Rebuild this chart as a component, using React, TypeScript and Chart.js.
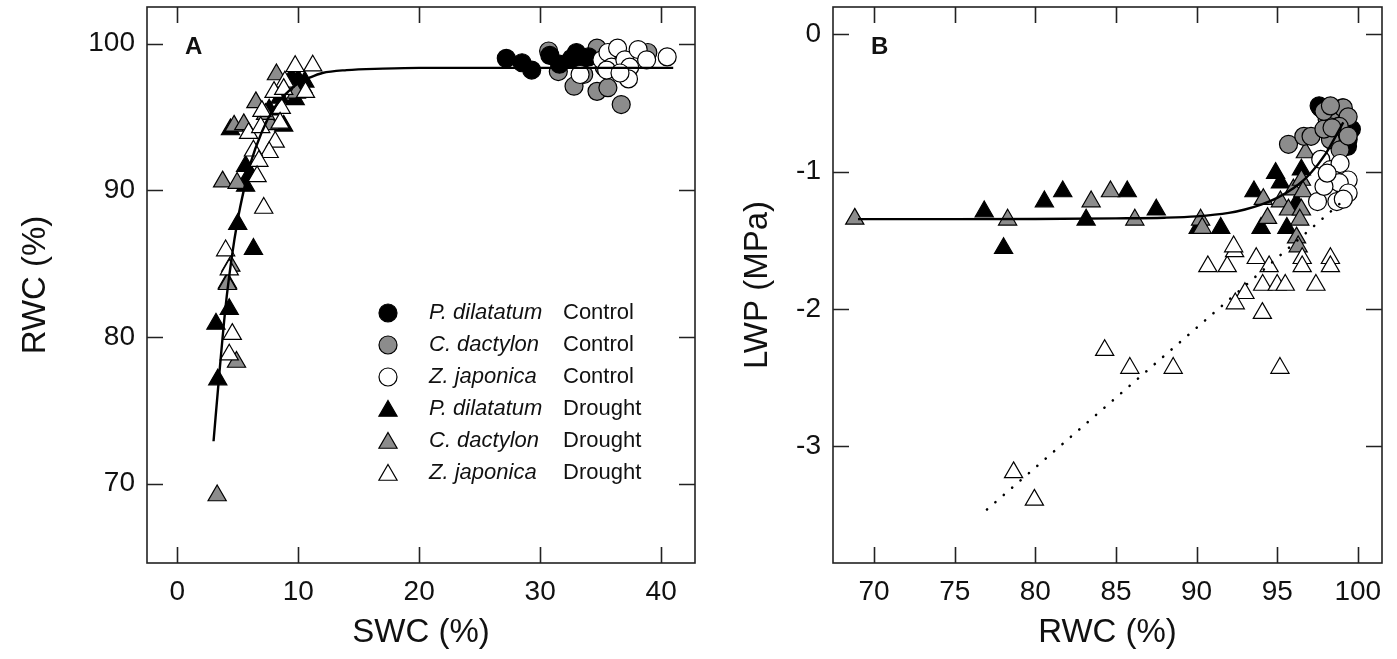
import React, { useEffect, useRef } from "react";
import { Chart, registerables } from "chart.js";
Chart.register(...registerables);

// ---------- Panel A: SWC (%) vs RWC (%) ----------
const A_X_TICKS = [0, 10, 20, 30, 40];
const A_Y_TICKS = [70, 80, 90, 100];

const A_CTRL_PD_SWC = [27.2, 28.5, 29.3, 30.8, 31.6, 32.6, 33.0, 33.3, 34.0];
const A_CTRL_PD_RWC = [99.0, 98.7, 98.2, 99.2, 98.6, 99.0, 99.4, 98.8, 99.1];

const A_CTRL_CD_SWC = [30.7, 31.5, 32.8, 33.6, 34.7, 34.7, 35.6, 36.7, 38.9, 35.3, 36.4];
const A_CTRL_CD_RWC = [99.5, 98.1, 97.1, 97.9, 99.7, 96.75, 97.0, 95.85, 99.4, 98.4, 99.0];

const A_CTRL_ZJ_SWC = [33.3, 35.1, 35.6, 35.9, 36.4, 37.0, 37.4, 37.3, 38.1, 38.8, 40.5, 35.5, 36.6];
const A_CTRL_ZJ_RWC = [97.9, 98.9, 99.4, 98.4, 99.7, 98.9, 98.4, 97.6, 99.6, 98.9, 99.1, 98.2, 98.0];

const A_DRT_PD_SWC = [10.55, 10.0, 9.45, 10.4, 9.75, 8.5, 7.6, 8.8, 4.4, 5.65, 5.65, 5.0, 6.3, 4.3, 3.2, 3.35, 4.15, 6.0];
const A_DRT_PD_RWC = [97.4, 97.55, 97.7, 97.0, 96.2, 96.3, 95.5, 94.4, 94.15, 91.65, 90.3, 87.7, 86.0, 81.9, 80.9, 77.1, 83.7, 91.1];

const A_DRT_CD_SWC = [8.2, 9.85, 6.5, 4.7, 5.5, 7.7, 3.75, 4.95, 4.43, 4.15, 4.9, 3.3, 7.3];
const A_DRT_CD_RWC = [97.9, 96.65, 96.0, 94.4, 94.5, 94.5, 90.6, 90.5, 84.85, 83.6, 78.3, 69.2, 95.2];

const A_DRT_ZJ_SWC = [9.75, 11.2, 8.9, 8.0, 8.8, 10.6, 7.0, 8.6, 8.5, 5.9, 6.9, 8.1, 7.6, 6.3, 6.75, 6.6, 7.15, 4.0, 4.3, 4.55, 4.3];
const A_DRT_ZJ_RWC = [98.46, 98.5, 97.4, 96.7, 96.9, 96.7, 95.4, 95.6, 94.6, 93.9, 94.3, 93.3, 92.6, 92.7, 92.0, 90.95, 88.8, 85.9, 84.6, 80.2, 78.8];

const A_FIT_SWC = [3.0, 3.5, 4.0, 4.5, 5.0, 5.5, 6.0, 7.0, 8.0, 9.0, 10.0, 11.0, 12.0, 14.0, 17.0, 20.0, 41.0];
const A_FIT_RWC = [72.9, 77.7, 82.1, 85.4, 88.0, 90.0, 91.7, 94.0, 95.6, 96.6, 97.3, 97.7, 98.0, 98.2, 98.3, 98.35, 98.35];

// ---------- Panel B: RWC (%) vs LWP (MPa) ----------
const B_X_TICKS = [70, 75, 80, 85, 90, 95, 100];
const B_Y_TICKS = [0, -1, -2, -3];

const B_CTRL_PD_RWC = [97.6, 97.7, 98.3, 99.05, 99.4, 99.36, 99.6, 98.6, 99.0];
const B_CTRL_PD_LWP = [-0.52, -0.535, -0.55, -0.535, -0.766, -0.815, -0.69, -0.6, -0.72];

const B_CTRL_CD_RWC = [95.7, 96.65, 97.1, 98.1, 98.5, 99.1, 99.4, 98.85, 98.3, 98.9, 97.9, 98.4, 99.4, 97.9, 98.3];
const B_CTRL_CD_LWP = [-0.8, -0.742, -0.742, -0.62, -0.547, -0.535, -0.6, -0.67, -0.766, -0.84, -0.69, -0.68, -0.74, -0.56, -0.52];

const B_CTRL_ZJ_RWC = [97.7, 98.3, 98.9, 98.5, 99.4, 98.85, 97.5, 98.7, 99.4, 97.9, 99.1, 98.1];
const B_CTRL_ZJ_LWP = [-0.91, -0.985, -0.94, -1.06, -1.06, -1.08, -1.217, -1.217, -1.155, -1.107, -1.2, -1.01];

const B_DRT_PD_RWC = [76.83, 78.03, 80.56, 81.7, 83.15, 85.7, 87.5, 90.1, 91.5, 93.56, 94.9, 95.2, 94.0, 95.6, 96.2, 96.5];
const B_DRT_PD_LWP = [-1.29, -1.557, -1.217, -1.144, -1.35, -1.144, -1.277, -1.41, -1.41, -1.144, -1.01, -1.08, -1.41, -1.41, -1.229, -0.985];

const B_DRT_CD_RWC = [68.8, 78.28, 83.46, 84.66, 86.17, 90.25, 90.35, 94.14, 95.2, 94.4, 95.7, 96.0, 96.5, 96.6, 96.5, 96.4, 96.2, 96.75, 96.3];
const B_DRT_CD_LWP = [-1.343, -1.35, -1.217, -1.144, -1.35, -1.35, -1.41, -1.2, -1.217, -1.338, -1.277, -1.13, -1.06, -1.144, -1.277, -1.35, -1.48, -0.86, -1.545];

const B_DRT_ZJ_RWC = [90.7, 91.9, 92.36, 93.7, 94.5, 96.55, 96.55, 98.3, 98.3, 93.0, 94.1, 95.0, 95.5, 97.4, 92.4, 94.08, 84.3, 85.86, 88.55, 95.17, 78.65, 79.94, 92.3];
const B_DRT_ZJ_LWP = [-1.69, -1.69, -1.58, -1.63, -1.69, -1.63, -1.69, -1.63, -1.69, -1.885, -1.825, -1.825, -1.825, -1.825, -1.96, -2.03, -2.3, -2.43, -2.43, -2.43, -3.19, -3.39, -1.545];

const B_FIT_RWC = [69, 75, 80, 85, 88, 90, 92, 93, 94, 95, 96, 97, 98, 99.1];
const B_FIT_LWP = [-1.345, -1.345, -1.344, -1.34, -1.335, -1.325, -1.3, -1.275, -1.24, -1.19, -1.12, -1.02, -0.87, -0.64];

const B_DOT_RWC = [77.0, 99.3];
const B_DOT_LWP = [-3.46, -1.19];

// ---------- legend ----------
const LEGEND_SPECIES = ["P. dilatatum", "C. dactylon", "Z. japonica", "P. dilatatum", "C. dactylon", "Z. japonica"];
const LEGEND_TREATMENT = ["Control", "Control", "Control", "Drought", "Drought", "Drought"];
const LEGEND_FILL = ["#000000", "#8c8c8c", "#ffffff", "#000000", "#8c8c8c", "#ffffff"];
const LEGEND_SHAPE = ["circle", "circle", "circle", "triangle", "triangle", "triangle"];

const FONT = "'Liberation Sans', Arial, Helvetica, sans-serif";
const BLACK = "#000000";
const GRAY = "#8c8c8c";
const WHITE = "#ffffff";

const zip = (xs: number[], ys: number[]) => xs.map((x, i) => ({ x, y: ys[i] }));

function markerSet(label: string, xs: number[], ys: number[], fill: string, shape: string) {
  return {
    label,
    data: zip(xs, ys),
    pointStyle: shape,
    pointRadius: shape === "triangle" ? 10.5 : 9,
    pointBackgroundColor: fill,
    pointBorderColor: "#000",
    pointBorderWidth: 1.2,
    showLine: false,
  };
}

function framePlugin(panelLabel: string, withLegend: boolean) {
  return {
    id: "frame" + panelLabel,
    afterDraw(chart: any) {
      const { ctx, chartArea: ca, scales } = chart;
      const xs = scales.x;
      const ys = scales.y;
      ctx.save();
      ctx.strokeStyle = "#222";
      ctx.lineWidth = 1.6;
      ctx.strokeRect(ca.left, ca.top, ca.right - ca.left, ca.bottom - ca.top);
      const L = 16;
      ctx.beginPath();
      xs.ticks.forEach((t: any) => {
        const px = Math.round(xs.getPixelForValue(t.value)) + 0.5;
        ctx.moveTo(px, ca.bottom);
        ctx.lineTo(px, ca.bottom - L);
        ctx.moveTo(px, ca.top);
        ctx.lineTo(px, ca.top + L);
      });
      ys.ticks.forEach((t: any) => {
        const py = Math.round(ys.getPixelForValue(t.value)) + 0.5;
        ctx.moveTo(ca.left, py);
        ctx.lineTo(ca.left + L, py);
        ctx.moveTo(ca.right, py);
        ctx.lineTo(ca.right - L, py);
      });
      ctx.stroke();

      ctx.fillStyle = "#111";
      ctx.font = `bold 24px ${FONT}`;
      ctx.textBaseline = "middle";
      ctx.textAlign = "left";
      ctx.fillText(panelLabel, ca.left + 38, 47);

      if (withLegend) {
        const rowY0 = 313;
        const rowStep = 32;
        const mx = 388;
        LEGEND_SPECIES.forEach((sp, i) => {
          const y = rowY0 + i * rowStep;
          ctx.fillStyle = LEGEND_FILL[i];
          ctx.strokeStyle = "#000";
          ctx.lineWidth = 1.2;
          ctx.beginPath();
          if (LEGEND_SHAPE[i] === "circle") {
            ctx.arc(mx, y, 9, 0, Math.PI * 2);
          } else {
            const r = 10.5;
            ctx.moveTo(mx, y - r + 2);
            ctx.lineTo(mx + 0.866 * r, y + 0.5 * r + 2);
            ctx.lineTo(mx - 0.866 * r, y + 0.5 * r + 2);
            ctx.closePath();
          }
          ctx.fill();
          ctx.stroke();
          ctx.fillStyle = "#111";
          ctx.font = `italic 22px ${FONT}`;
          ctx.fillText(sp, 429, y);
          ctx.font = `22px ${FONT}`;
          ctx.fillText(LEGEND_TREATMENT[i], 563, y);
        });
      }
      ctx.restore();
    },
  };
}

function axisOpts(min: number, max: number, ticks: number[], title: string, isY: boolean, size: number, titlePad: any) {
  return {
    type: "linear",
    min,
    max,
    afterBuildTicks: (s: any) => {
      s.ticks = ticks.map((v) => ({ value: v }));
    },
    afterFit: (s: any) => {
      if (isY) s.width = size;
      else s.height = size;
      s.paddingTop = 0;
      s.paddingBottom = 0;
      s.paddingLeft = 0;
      s.paddingRight = 0;
    },
    grid: { display: false, drawTicks: false },
    border: { display: false },
    ticks: {
      color: "#111",
      font: { family: FONT, size: 28 },
      padding: 12,
      callback: (v: any) => String(v),
    },
    title: {
      display: true,
      text: title,
      color: "#111",
      font: { family: FONT, size: 33 },
      padding: titlePad,
    },
  };
}

function PanelA() {
  const ref = useRef<HTMLCanvasElement | null>(null);
  useEffect(() => {
    if (!ref.current) return;
    const chart = new Chart(ref.current, {
      type: "scatter",
      data: {
        datasets: [
          {
            label: "fit",
            data: zip(A_FIT_SWC, A_FIT_RWC),
            showLine: true,
            borderColor: "#000",
            borderWidth: 2.4,
            pointRadius: 0,
            cubicInterpolationMode: "monotone",
            fill: false,
          } as any,
          markerSet("Zj control", A_CTRL_ZJ_SWC, A_CTRL_ZJ_RWC, WHITE, "circle"),
          markerSet("Pd control", A_CTRL_PD_SWC, A_CTRL_PD_RWC, BLACK, "circle"),
          markerSet("Cd control", A_CTRL_CD_SWC, A_CTRL_CD_RWC, GRAY, "circle"),
          markerSet("Zj drought", A_DRT_ZJ_SWC, A_DRT_ZJ_RWC, WHITE, "triangle"),
          markerSet("Cd drought", A_DRT_CD_SWC, A_DRT_CD_RWC, GRAY, "triangle"),
          markerSet("Pd drought", A_DRT_PD_SWC, A_DRT_PD_RWC, BLACK, "triangle"),
        ],
      },
      options: {
        responsive: false,
        animation: false,
        layout: { autoPadding: false, padding: { top: 7, right: 25, left: 0, bottom: 0 } },
        plugins: { legend: { display: false }, tooltip: { enabled: false } },
        scales: {
          x: axisOpts(-2.5, 42.8, A_X_TICKS, "SWC (%)", false, 96, { top: 0, bottom: 6 }),
          y: axisOpts(64.6, 102.5, A_Y_TICKS, "RWC (%)", true, 147, { top: 16, bottom: 0 }),
        } as any,
      },
      plugins: [framePlugin("A", true)],
    } as any);
    return () => chart.destroy();
  }, []);
  return <canvas ref={ref} width={720} height={659} style={{ position: "absolute", left: 0, top: 0 }} />;
}

function PanelB() {
  const ref = useRef<HTMLCanvasElement | null>(null);
  useEffect(() => {
    if (!ref.current) return;
    const chart = new Chart(ref.current, {
      type: "scatter",
      data: {
        datasets: [
          {
            label: "fit",
            data: zip(B_FIT_RWC, B_FIT_LWP),
            showLine: true,
            borderColor: "#000",
            borderWidth: 2.4,
            pointRadius: 0,
            cubicInterpolationMode: "monotone",
            fill: false,
          } as any,
          {
            label: "linear",
            data: zip(B_DOT_RWC, B_DOT_LWP),
            showLine: true,
            borderColor: "#000",
            borderWidth: 2.6,
            borderDash: [0.1, 11],
            borderCapStyle: "round",
            pointRadius: 0,
            fill: false,
          } as any,
          markerSet("Zj control", B_CTRL_ZJ_RWC, B_CTRL_ZJ_LWP, WHITE, "circle"),
          markerSet("Cd control", B_CTRL_CD_RWC, B_CTRL_CD_LWP, GRAY, "circle"),
          markerSet("Pd control", B_CTRL_PD_RWC, B_CTRL_PD_LWP, BLACK, "circle"),
          markerSet("Zj drought", B_DRT_ZJ_RWC, B_DRT_ZJ_LWP, WHITE, "triangle"),
          markerSet("Cd drought", B_DRT_CD_RWC, B_DRT_CD_LWP, GRAY, "triangle"),
          markerSet("Pd drought", B_DRT_PD_RWC, B_DRT_PD_LWP, BLACK, "triangle"),
        ],
      },
      options: {
        responsive: false,
        animation: false,
        layout: { autoPadding: false, padding: { top: 7, right: 15, left: 0, bottom: 0 } },
        plugins: { legend: { display: false }, tooltip: { enabled: false } },
        scales: {
          x: axisOpts(67.45, 101.5, B_X_TICKS, "RWC (%)", false, 96, { top: 0, bottom: 6 }),
          y: axisOpts(-3.85, 0.2, B_Y_TICKS, "LWP (MPa)", true, 113, { top: 18, bottom: 0 }),
        } as any,
      },
      plugins: [framePlugin("B", false)],
    } as any);
    return () => chart.destroy();
  }, []);
  return <canvas ref={ref} width={677} height={659} style={{ position: "absolute", left: 720, top: 0 }} />;
}

export default function App() {
  return (
    <div style={{ position: "absolute", left: 0, top: 0, width: 1397, height: 659, background: "#fff", overflow: "hidden" }}>
      <PanelA />
      <PanelB />
    </div>
  );
}
